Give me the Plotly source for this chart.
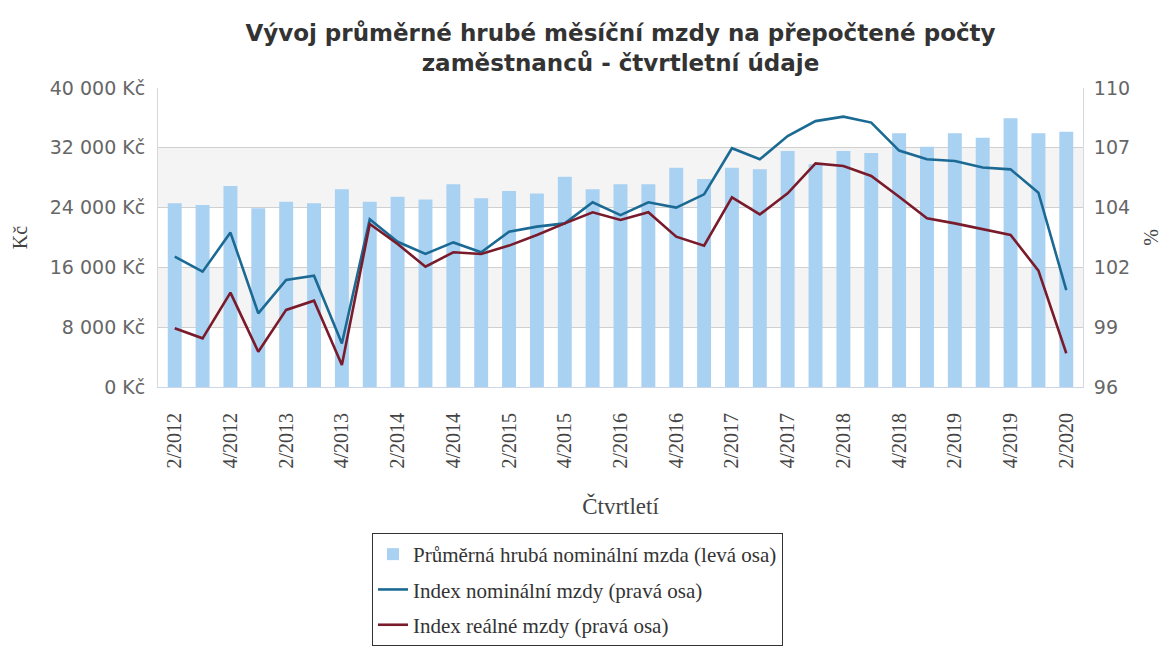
import plotly.graph_objects as go

quarters = ["2/2012", "3/2012", "4/2012",
            "1/2013", "2/2013", "3/2013", "4/2013",
            "1/2014", "2/2014", "3/2014", "4/2014",
            "1/2015", "2/2015", "3/2015", "4/2015",
            "1/2016", "2/2016", "3/2016", "4/2016",
            "1/2017", "2/2017", "3/2017", "4/2017",
            "1/2018", "2/2018", "3/2018", "4/2018",
            "1/2019", "2/2019", "3/2019", "4/2019",
            "1/2020", "2/2020"]

avg_wage = [24575, 24350, 26890, 23900, 24790, 24575, 26440, 24790,
            25460, 25100, 27110, 25240, 26220, 25900, 28140, 26440,
            27110, 27110, 29340, 27830, 29340, 29120, 31570, 29800,
            31570, 31300, 33940, 32150, 33940, 33350, 35950, 33940,
            34160]

nominal_index = [102.10, 101.40, 103.23, 99.45, 101.01, 101.21, 98.04, 103.85,
                 102.80, 102.23, 102.77, 102.31, 103.27, 103.51, 103.66, 104.65,
                 104.05, 104.65, 104.40, 105.02, 107.18, 106.66, 107.75, 108.45,
                 108.66, 108.38, 107.07, 106.66, 106.58, 106.28, 106.19, 105.10,
                 100.54]

real_index = [98.75, 98.28, 100.42, 97.65, 99.61, 100.04, 97.03, 103.63,
              102.70, 101.63, 102.31, 102.23, 102.62, 103.12, 103.66, 104.18,
              103.82, 104.18, 103.04, 102.62, 104.88, 104.08, 105.07, 106.47,
              106.35, 105.88, 104.91, 103.90, 103.66, 103.38, 103.12, 101.45,
              97.58]

shown_ticks = quarters[::2]

left_ticks = [0, 8000, 16000, 24000, 32000, 40000]
left_text = [f"{v:,}".replace(",", " ") + " Kč" for v in left_ticks]
right_ticks = [96 + 2.8 * k for k in range(6)]
right_text = [str(round(v)) for v in right_ticks]

SERIF = "Liberation Serif, Times New Roman, serif"
SANS = "DejaVu Sans, Arial, sans-serif"

# the page body adds an 8px margin, so the figure is 8px smaller than the window
W, H = 1162, 640
PL, PR, PT, PB = 150, 1075, 80, 379   # plot area in figure coordinates

fig = go.Figure()
fig.add_trace(go.Bar(
    x=quarters, y=avg_wage, name="Průměrná hrubá nominální mzda (levá osa)",
    marker=dict(color="#a9d1f2", line=dict(width=0)), yaxis="y",
    legendgroup="a",
))
fig.add_trace(go.Scatter(
    x=quarters, y=nominal_index, name="Index nominální mzdy (pravá osa)",
    mode="lines", line=dict(color="#1b6a93", width=2.6), yaxis="y2",
    legendgroup="b",
))
fig.add_trace(go.Scatter(
    x=quarters, y=real_index, name="Index reálné mzdy (pravá osa)",
    mode="lines", line=dict(color="#7a1b2c", width=2.6), yaxis="y2",
    legendgroup="c",
))

# alternate grid bands
for lo, hi in [(8000, 16000), (24000, 32000)]:
    fig.add_shape(type="rect", xref="paper", yref="y", x0=0, x1=1, y0=lo, y1=hi,
                  fillcolor="#f4f4f4", line=dict(width=0), layer="below")

fig.update_layout(
    width=W, height=H,
    margin=dict(l=PL, r=W - PR, t=PT, b=H - PB, autoexpand=False),
    paper_bgcolor="white", plot_bgcolor="white",
    bargap=0.5,
    title=dict(
        text="<b>Vývoj průměrné hrubé měsíční mzdy na přepočtené počty<br>zaměstnanců - čtvrtletní údaje</b>",
        xref="paper", x=0.5, xanchor="center",
        yref="container", y=0.948, yanchor="top",
        font=dict(family=SANS, size=23, color="#333333"),
    ),
    xaxis=dict(
        type="category", tickmode="array", tickvals=shown_ticks, ticktext=shown_ticks,
        tickangle=-90, tickfont=dict(family=SERIF, size=20, color="#444444"),
        ticklabelstandoff=17,
        showgrid=False, showline=True, linecolor="#ccd6eb", ticks="",
        automargin=False,
        title=dict(text="Čtvrtletí", font=dict(family=SERIF, size=23, color="#444444"), standoff=30),
        range=[-0.6, 32.6],
    ),
    yaxis=dict(
        range=[0, 40000], tickmode="array", tickvals=left_ticks, ticktext=left_text,
        tickfont=dict(family=SANS, size=19, color="#666666"),
        ticklabelstandoff=8,
        gridcolor="#d0d0d0", gridwidth=1, zeroline=False,
        showline=True, linecolor="#d8d8d8", automargin=False,
        title=dict(text="Kč", font=dict(family=SERIF, size=20, color="#444444"), standoff=16),
    ),
    yaxis2=dict(
        overlaying="y", side="right", range=[96, 110],
        tickmode="array", tickvals=right_ticks, ticktext=right_text,
        tickfont=dict(family=SANS, size=19, color="#666666"),
        ticklabelstandoff=6,
        showgrid=False, zeroline=False, showline=True, linecolor="#d8d8d8",
        automargin=False,
        title=dict(text="%", font=dict(family=SERIF, size=20, color="#444444"), standoff=14),
    ),
    legend=dict(
        x=(372 - 8 - PL) / (PR - PL), xanchor="left",
        y=(PB - (533 - 8)) / (PB - PT), yanchor="top",
        orientation="v", bordercolor="#333333", borderwidth=1,
        font=dict(family=SERIF, size=21, color="#333333"),
        tracegroupgap=5, itemwidth=30,
        traceorder="grouped",
    ),
    showlegend=True,
)

fig.write_html("out.html")
